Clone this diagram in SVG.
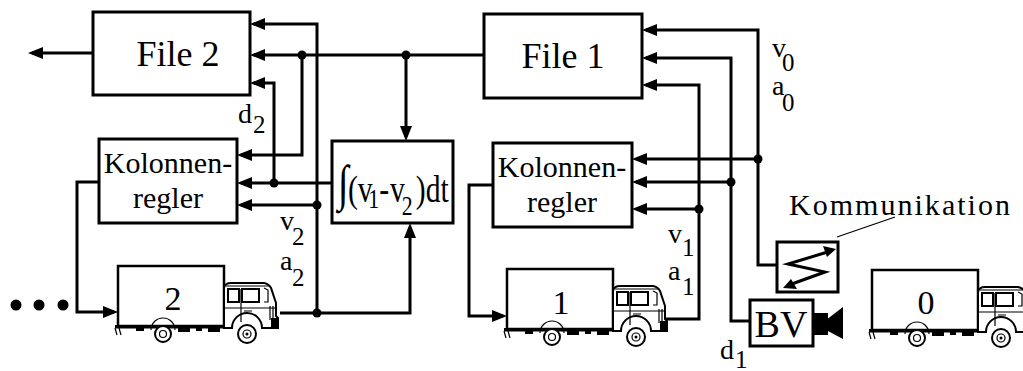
<svg xmlns="http://www.w3.org/2000/svg" xmlns:xlink="http://www.w3.org/1999/xlink" width="1023" height="371" viewBox="0 0 1023 371" font-family="Liberation Serif, serif">
  <style>
    .box { fill: #fff; stroke: #000; stroke-width: 3; }
    .arrow { fill: none; stroke: #000; stroke-width: 3; marker-end: url(#head); }
    .dot { fill: #000; }
    text { font-family: 'Liberation Serif', serif; fill: #000; }
    .big { font-size: 36px; }
    .mid { font-size: 30px; }
    .sym { font-size: 28px; }
    .sub { font-size: 25px; }
    .tk { fill: #fff; stroke: #000; stroke-width: 2; }
    .tk-thin { fill: none; stroke: #000; stroke-width: 1.2; }
  </style>
  <defs>
    <marker id="head" markerUnits="userSpaceOnUse" markerWidth="15" markerHeight="12" refX="11" refY="6" orient="auto">
      <path d="M0,0 L15,6 L0,12 z" fill="#000"/>
    </marker>
    <!-- lorry outline; the cargo box spans 0..106 x 0..60 -->
    <g id="truck-shape">
      <rect x="0" y="0" width="106" height="60" fill="#fff" stroke="#000" stroke-width="2.5"/>
      <rect x="-3" y="59" width="112" height="3.5" fill="#000"/>
      <rect x="18" y="61" width="8" height="4" fill="#000"/>
      <rect x="60" y="61" width="12" height="5" fill="#000"/>
      <rect x="78" y="61" width="6" height="4" fill="#000"/>
      <rect x="90" y="61" width="12" height="5" fill="#000"/>
      <path class="tk-thin" d="M-3,62 L-1,69 M1,62 L3,69"/>
      <path class="tk-thin" d="M33,64 A12,12 0 0 1 57,64"/>
      <circle class="tk" cx="45" cy="68" r="8"/>
      <circle class="tk-thin" cx="45" cy="68" r="3.5"/>
      <path class="tk" d="M106,62 V22 Q107,17 113,17 L146,17 Q151,18 153,22 L158,37 V50 L160,52 V62 L144,62 A15,15 0 0 0 114,62 Z"/>
      <path class="tk-thin" d="M108,20 H151"/>
      <rect class="tk" x="110" y="23" width="11" height="13"/>
      <rect class="tk" x="124" y="23" width="17" height="13"/>
      <path class="tk-thin" d="M146,22 L150,24 L150,36 L146,36"/>
      <path class="tk-thin" d="M123,23 V56 M106,42 H158 M126,45 H134 M152,40 V54 M155,40 V54"/>
      <rect x="153" y="52" width="7" height="10" fill="#000"/>
      <circle class="tk" cx="129" cy="68" r="9"/>
      <circle class="tk-thin" cx="129" cy="68" r="4"/>
      <circle cx="129" cy="68" r="1.5" fill="#000"/>
    </g>
  </defs>

  <rect x="0" y="0" width="1023" height="371" fill="#fff"/>

  <!-- signal lines -->
  <g id="connectors">
    <path class="arrow" d="M93,53 H32"/>
    <path class="arrow" d="M317,313 V24 H254"/>
    <path class="arrow" d="M484,55 H254"/>
    <path class="arrow" d="M302,55 V155 H241"/>
    <path class="arrow" d="M274,183 V83 H254"/>
    <path class="arrow" d="M332,183 H241"/>
    <path class="arrow" d="M317,205 H241"/>
    <path class="arrow" d="M280,313 H410 V227"/>
    <path class="arrow" d="M406,55 V137"/>
    <path class="arrow" d="M99,182 H77 V312 H114"/>
    <path class="arrow" d="M777,265 H758 V30 H646"/>
    <path class="arrow" d="M758,159 H636"/>
    <path class="arrow" d="M750,321 H731 V58 H646"/>
    <path class="arrow" d="M731,182 H636"/>
    <path class="arrow" d="M665,319 H699 V85 H646"/>
    <path class="arrow" d="M699,209 H636"/>
    <path class="arrow" d="M493,185 H469 V316 H503"/>
    <path d="M895,217 L837,237" fill="none" stroke="#000" stroke-width="1.2"/>
    <circle class="dot" cx="302" cy="55" r="4.5"/>
    <circle class="dot" cx="406" cy="55" r="4.5"/>
    <circle class="dot" cx="274" cy="183" r="4.5"/>
    <circle class="dot" cx="317" cy="205" r="4.5"/>
    <circle class="dot" cx="317" cy="313" r="4.5"/>
    <circle class="dot" cx="758" cy="159" r="4.5"/>
    <circle class="dot" cx="731" cy="182" r="4.5"/>
    <circle class="dot" cx="699" cy="209" r="4.5"/>
  </g>

  <g id="file2">
    <rect class="box" x="93" y="12" width="157" height="83"/>
    <text class="big" x="178" y="66" text-anchor="middle">File 2</text>
  </g>

  <g id="file1">
    <rect class="box" x="484" y="14" width="158" height="84"/>
    <text class="big" x="563" y="68" text-anchor="middle">File 1</text>
  </g>

  <g id="regler2">
    <rect class="box" x="99" y="139" width="138" height="84"/>
    <text class="mid" x="168" y="173" text-anchor="middle">Kolonnen-</text>
    <text class="mid" x="168" y="208" text-anchor="middle">regler</text>
  </g>

  <g id="regler1">
    <rect class="box" x="493" y="143" width="139" height="84"/>
    <text class="mid" x="562" y="177" text-anchor="middle">Kolonnen-</text>
    <text class="mid" x="562" y="212" text-anchor="middle">regler</text>
  </g>

  <g id="integrator">
    <rect class="box" x="332" y="141" width="121" height="82"/>
    <g transform="translate(348,202) scale(0.78,1)">
      <text font-size="38"><tspan x="-13" y="-2" font-size="50">∫</tspan><tspan x="0" y="0">(v</tspan><tspan x="26" y="6" font-size="28">1</tspan><tspan x="40" y="0">-</tspan><tspan x="54" y="0">v</tspan><tspan x="69" y="13" font-size="28">2</tspan><tspan x="87" y="0">)dt</tspan></text>
    </g>
  </g>

  <g id="labels">
    <text class="sym" x="238" y="123">d<tspan class="sub" x="253" y="133">2</tspan></text>
    <text class="sym" x="280" y="230">v<tspan class="sub" x="292" y="245">2</tspan></text>
    <text class="sym" x="280" y="270">a<tspan class="sub" x="292" y="286">2</tspan></text>
    <text class="sym" x="668" y="243">v<tspan class="sub" x="682" y="256">1</tspan></text>
    <text class="sym" x="668" y="280">a<tspan class="sub" x="682" y="295">1</tspan></text>
    <text class="sym" x="720" y="359">d<tspan class="sub" x="735" y="368">1</tspan></text>
    <text class="sym" x="772" y="57">v<tspan class="sub" x="782" y="71">0</tspan></text>
    <text class="sym" x="772" y="95">a<tspan class="sub" x="782" y="111">0</tspan></text>
    <text class="mid" x="789" y="215" textLength="221" lengthAdjust="spacing">Kommunikation</text>
  </g>

  <g id="kommunikation">
    <rect class="box" x="777" y="242" width="61" height="50"/>
    <path d="M831,251 L788,264 L825,272 L789,285" fill="none" stroke="#000" stroke-width="3"/>
    <path d="M836,249 L823,246 L827,257 z" fill="#000"/>
    <path d="M783,288 L791,279 L797,289 z" fill="#000"/>
  </g>

  <g id="bv">
    <rect class="box" x="750" y="300" width="63" height="46"/>
    <text x="781" y="337" font-size="38" text-anchor="middle">BV</text>
    <rect x="813" y="313" width="15" height="22" fill="#000"/>
    <path d="M826,320 L843,307 L843,339 L826,330 z" fill="#000"/>
  </g>

  <g id="dots">
    <circle class="dot" cx="16" cy="305" r="5.5"/>
    <circle class="dot" cx="39" cy="305" r="5.5"/>
    <circle class="dot" cx="63" cy="305" r="5.5"/>
  </g>

  <g id="truck2">
    <use xlink:href="#truck-shape" transform="translate(118,266)"/>
    <text x="173" y="310" font-size="34" text-anchor="middle">2</text>
  </g>

  <g id="truck1">
    <use xlink:href="#truck-shape" transform="translate(507,269)"/>
    <text x="561" y="314" font-size="34" text-anchor="middle">1</text>
  </g>

  <g id="truck0">
    <use xlink:href="#truck-shape" transform="translate(872,270)"/>
    <text x="926" y="314" font-size="34" text-anchor="middle">0</text>
  </g>
</svg>
